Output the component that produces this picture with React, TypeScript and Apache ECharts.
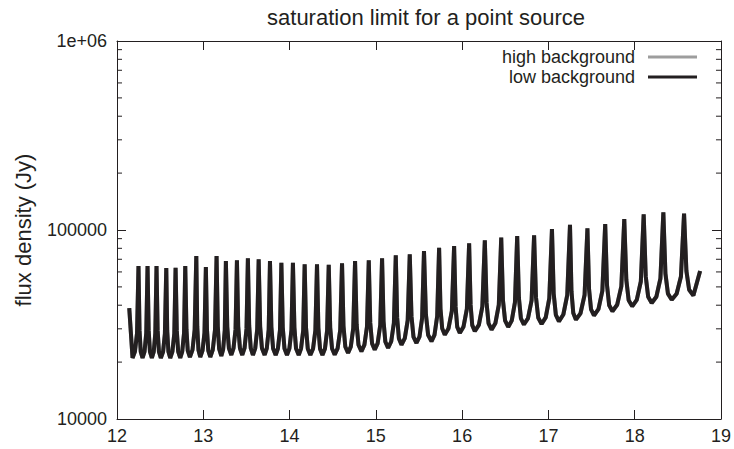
import React, { useEffect, useRef } from "react";
import * as echarts from "echarts";

const chartTitle = "saturation limit for a point source";
const yAxisTitle = "flux density (Jy)";
const seriesNames = ["high background", "low background"];

// frequency samples along the curve (x axis)
const frequency = [
  12.142, 12.18, 12.208, 12.232,
  12.249, 12.261, 12.275, 12.296, 12.319, 12.339,
  12.354, 12.367, 12.382, 12.404, 12.426, 12.444,
  12.458, 12.471, 12.486, 12.508, 12.534, 12.555,
  12.571, 12.582, 12.596, 12.617, 12.642, 12.664,
  12.679, 12.693, 12.709, 12.733, 12.756, 12.777,
  12.791, 12.805, 12.82, 12.845, 12.875, 12.9,
  12.919, 12.93, 12.944, 12.965, 12.991, 13.014,
  13.03, 13.043, 13.058, 13.081, 13.11, 13.136,
  13.154, 13.168, 13.184, 13.209, 13.23, 13.249,
  13.262, 13.278, 13.297, 13.325, 13.35, 13.374,
  13.39, 13.405, 13.425, 13.452, 13.478, 13.501,
  13.517, 13.532, 13.55, 13.575, 13.602, 13.625,
  13.642, 13.659, 13.68, 13.711, 13.736, 13.758,
  13.773, 13.789, 13.809, 13.839, 13.865, 13.889,
  13.905, 13.921, 13.941, 13.97, 13.998, 14.022,
  14.039, 14.056, 14.075, 14.106, 14.133, 14.158,
  14.175, 14.191, 14.211, 14.241, 14.272, 14.299,
  14.318, 14.334, 14.353, 14.381, 14.41, 14.435,
  14.454, 14.471, 14.492, 14.523, 14.557, 14.587,
  14.608, 14.625, 14.646, 14.678, 14.71, 14.738,
  14.759, 14.777, 14.799, 14.833, 14.867, 14.897,
  14.918, 14.935, 14.956, 14.987, 15.021, 15.051,
  15.072, 15.089, 15.11, 15.142, 15.178, 15.209,
  15.231, 15.247, 15.267, 15.297, 15.335, 15.369,
  15.393, 15.413, 15.436, 15.471, 15.506, 15.536,
  15.558, 15.58, 15.606, 15.645, 15.68, 15.711,
  15.733, 15.749, 15.769, 15.799, 15.842, 15.881,
  15.907, 15.924, 15.943, 15.973, 16.016, 16.055,
  16.081, 16.098, 16.117, 16.147, 16.194, 16.234,
  16.263, 16.283, 16.306, 16.341, 16.385, 16.425,
  16.453, 16.473, 16.498, 16.534, 16.575, 16.612,
  16.638, 16.658, 16.681, 16.716, 16.763, 16.805,
  16.834, 16.856, 16.882, 16.921, 16.969, 17.01,
  17.041, 17.061, 17.086, 17.122, 17.173, 17.218,
  17.25, 17.267, 17.288, 17.319, 17.372, 17.419,
  17.452, 17.471, 17.494, 17.528, 17.58, 17.625,
  17.658, 17.679, 17.704, 17.742, 17.797, 17.845,
  17.879, 17.903, 17.93, 17.971, 18.024, 18.071,
  18.104, 18.128, 18.156, 18.197, 18.251, 18.298,
  18.332, 18.356, 18.385, 18.429, 18.486, 18.536,
  18.572, 18.599, 18.631, 18.68, 18.758,
];

// saturation flux (Jy), low background
const lowBackground = [
  38660, 21030, 22730, 28440,
  64500, 29430, 22730, 21030, 22730, 28440,
  64500, 29430, 22730, 21030, 22730, 28440,
  64500, 29430, 22730, 21030, 22700, 28270,
  62950, 29220, 22700, 21030, 22700, 28310,
  63180, 29250, 22700, 21030, 22730, 28440,
  64500, 29680, 23010, 21280, 23210, 29680,
  72840, 30790, 23210, 21280, 22980, 28620,
  63710, 29580, 22980, 21280, 23210, 29680,
  72840, 31050, 23460, 21540, 23350, 29470,
  68550, 30750, 23630, 21810, 23630, 29790,
  69130, 30830, 23630, 21810, 23690, 29970,
  70840, 31050, 23690, 21810, 23660, 29860,
  69980, 30940, 23660, 21810, 23630, 29720,
  68550, 30750, 23630, 21810, 23600, 29540,
  67140, 30560, 23600, 21810, 23600, 29540,
  67140, 30560, 23600, 21810, 23580, 29390,
  65850, 30380, 23550, 21810, 23550, 29390,
  65850, 30380, 23550, 21810, 23550, 29360,
  65530, 30410, 23630, 21890, 23660, 29580,
  66650, 31010, 24130, 22350, 24160, 30230,
  68550, 31740, 24630, 22810, 24660, 30790,
  69130, 32250, 25120, 23260, 25150, 31430,
  70840, 32960, 25640, 23750, 25710, 32210,
  73470, 34270, 26700, 24720, 26700, 33280,
  74370, 34900, 27220, 25240, 27290, 34150,
  77430, 35850, 27830, 25770, 27890, 35070,
  80600, 38380, 30090, 27930, 30120, 37370,
  82290, 39180, 30710, 28510, 30790, 38280,
  85060, 40150, 31390, 29110, 31470, 39280,
  88220, 41140, 32050, 29680, 32090, 40200,
  91280, 42510, 33120, 30680, 33160, 41390,
  92960, 43670, 34100, 31620, 34100, 42410,
  93750, 43990, 34310, 31820, 34480, 43510,
  101230, 46070, 35590, 32880, 35720, 45180,
  106660, 47440, 36340, 33530, 36250, 45290,
  102090, 48550, 38000, 35290, 38140, 47670,
  107580, 51100, 40000, 37140, 40200, 50300,
  114340, 54320, 42510, 39470, 42670, 53400,
  121060, 56820, 44310, 41090, 44370, 55390,
  124060, 58870, 46070, 42770, 46020, 56820,
  122260, 60760, 48260, 45020, 60690,
];

// saturation flux (Jy), high background (coincides with the low-background curve)
const highBackground = [
  38660, 21030, 22730, 28440,
  64500, 29430, 22730, 21030, 22730, 28440,
  64500, 29430, 22730, 21030, 22730, 28440,
  64500, 29430, 22730, 21030, 22700, 28270,
  62950, 29220, 22700, 21030, 22700, 28310,
  63180, 29250, 22700, 21030, 22730, 28440,
  64500, 29680, 23010, 21280, 23210, 29680,
  72840, 30790, 23210, 21280, 22980, 28620,
  63710, 29580, 22980, 21280, 23210, 29680,
  72840, 31050, 23460, 21540, 23350, 29470,
  68550, 30750, 23630, 21810, 23630, 29790,
  69130, 30830, 23630, 21810, 23690, 29970,
  70840, 31050, 23690, 21810, 23660, 29860,
  69980, 30940, 23660, 21810, 23630, 29720,
  68550, 30750, 23630, 21810, 23600, 29540,
  67140, 30560, 23600, 21810, 23600, 29540,
  67140, 30560, 23600, 21810, 23580, 29390,
  65850, 30380, 23550, 21810, 23550, 29390,
  65850, 30380, 23550, 21810, 23550, 29360,
  65530, 30410, 23630, 21890, 23660, 29580,
  66650, 31010, 24130, 22350, 24160, 30230,
  68550, 31740, 24630, 22810, 24660, 30790,
  69130, 32250, 25120, 23260, 25150, 31430,
  70840, 32960, 25640, 23750, 25710, 32210,
  73470, 34270, 26700, 24720, 26700, 33280,
  74370, 34900, 27220, 25240, 27290, 34150,
  77430, 35850, 27830, 25770, 27890, 35070,
  80600, 38380, 30090, 27930, 30120, 37370,
  82290, 39180, 30710, 28510, 30790, 38280,
  85060, 40150, 31390, 29110, 31470, 39280,
  88220, 41140, 32050, 29680, 32090, 40200,
  91280, 42510, 33120, 30680, 33160, 41390,
  92960, 43670, 34100, 31620, 34100, 42410,
  93750, 43990, 34310, 31820, 34480, 43510,
  101230, 46070, 35590, 32880, 35720, 45180,
  106660, 47440, 36340, 33530, 36250, 45290,
  102090, 48550, 38000, 35290, 38140, 47670,
  107580, 51100, 40000, 37140, 40200, 50300,
  114340, 54320, 42510, 39470, 42670, 53400,
  121060, 56820, 44310, 41090, 44370, 55390,
  124060, 58870, 46070, 42770, 46020, 56820,
  122260, 60760, 48260, 45020, 60690,
];

const xMin = 12;
const xMax = 19;
const fluxMin = 10000;
const fluxMax = 1000000;
// intermediate log-scale ticks (2..9 per decade)
const fluxMinorTicks = [
  20000, 30000, 40000, 50000, 60000, 70000, 80000, 90000,
  200000, 300000, 400000, 500000, 600000, 700000, 800000, 900000,
];

const FONT = "'Liberation Sans', Arial, Helvetica, sans-serif";
const INK = "#231f20";
const GREY = "#9d9d9d";

export default function App() {
  const ref = useRef<HTMLDivElement>(null);

  useEffect(() => {
    if (!ref.current) return;
    const chart = echarts.init(ref.current, null, { renderer: "svg" });
    const pairs = (ys: number[]) => frequency.map((f, i) => [f, ys[i]]);

    const axisLine = { show: true, lineStyle: { color: INK, width: 1 } };
    const majorTick = { show: true, inside: true, length: 9, lineStyle: { color: INK, width: 1 } };
    const labelStyle = { fontFamily: FONT, fontSize: 18, color: INK };

    chart.setOption({
      animation: false,
      backgroundColor: "#ffffff",
      title: {
        text: chartTitle,
        left: 421,
        top: 1,
        textAlign: "center",
        textStyle: { fontFamily: FONT, fontSize: 22, fontWeight: "normal", color: INK },
      },
      legend: {
        data: seriesNames,
        orient: "vertical",
        right: 32,
        top: 43,
        align: "right",
        icon: "rect",
        itemWidth: 49,
        itemHeight: 3,
        itemGap: 2,
        textStyle: { fontFamily: FONT, fontSize: 18, color: INK, padding: [0, 8, 0, 0] },
      },
      grid: { left: 117, right: 13, top: 41, bottom: 30 },
      xAxis: [
        {
          type: "value",
          min: xMin,
          max: xMax,
          interval: 1,
          position: "bottom",
          axisLine,
          axisTick: majorTick,
          axisLabel: { ...labelStyle, margin: 8 },
          splitLine: { show: false },
        },
        {
          type: "value",
          min: xMin,
          max: xMax,
          interval: 1,
          position: "top",
          axisLine,
          axisTick: majorTick,
          axisLabel: { show: false },
          splitLine: { show: false },
        },
      ],
      yAxis: [
        {
          type: "log",
          logBase: 10,
          min: fluxMin,
          max: fluxMax,
          position: "left",
          axisLine,
          axisTick: majorTick,
          axisLabel: {
            ...labelStyle,
            margin: 10,
            formatter: (v: number) => {
              const r = Math.round(v);
              return r >= 1000000 ? "1e+06" : String(r);
            },
          },
          splitLine: { show: false },
        },
        {
          type: "log",
          logBase: 10,
          min: fluxMin,
          max: fluxMax,
          position: "right",
          axisLine,
          axisTick: majorTick,
          axisLabel: { show: false },
          splitLine: { show: false },
        },
      ],
      series: [
        {
          name: seriesNames[0],
          type: "line",
          data: pairs(highBackground),
          showSymbol: false,
          color: GREY,
          lineStyle: { color: GREY, width: 4, join: "bevel" },
          z: 2,
        },
        {
          name: seriesNames[1],
          type: "line",
          data: pairs(lowBackground),
          showSymbol: false,
          color: INK,
          lineStyle: { color: INK, width: 4, join: "bevel" },
          z: 3,
        },
        {
          type: "custom",
          silent: true,
          z: 4,
          data: fluxMinorTicks.map((v) => [xMin, v]),
          renderItem: (_params: any, api: any) => {
            const v = api.value(1);
            const [xl, y] = api.coord([xMin, v]);
            const xr = api.coord([xMax, v])[0];
            return {
              type: "group",
              children: [
                { type: "line", shape: { x1: xl, y1: y, x2: xl + 5, y2: y }, style: { stroke: INK, lineWidth: 1 } },
                { type: "line", shape: { x1: xr, y1: y, x2: xr - 5, y2: y }, style: { stroke: INK, lineWidth: 1 } },
              ],
            };
          },
        },
      ],
      graphic: [
        {
          type: "text",
          x: 23,
          y: 230,
          rotation: Math.PI / 2,
          style: {
            text: yAxisTitle,
            fontFamily: FONT,
            fontSize: 22,
            fill: INK,
            align: "center",
            verticalAlign: "middle",
          },
        },
      ],
    });

    return () => chart.dispose();
  }, []);

  return (
    <div
      ref={ref}
      style={{ position: "absolute", left: 0, top: 0, width: 734, height: 449 }}
    />
  );
}
